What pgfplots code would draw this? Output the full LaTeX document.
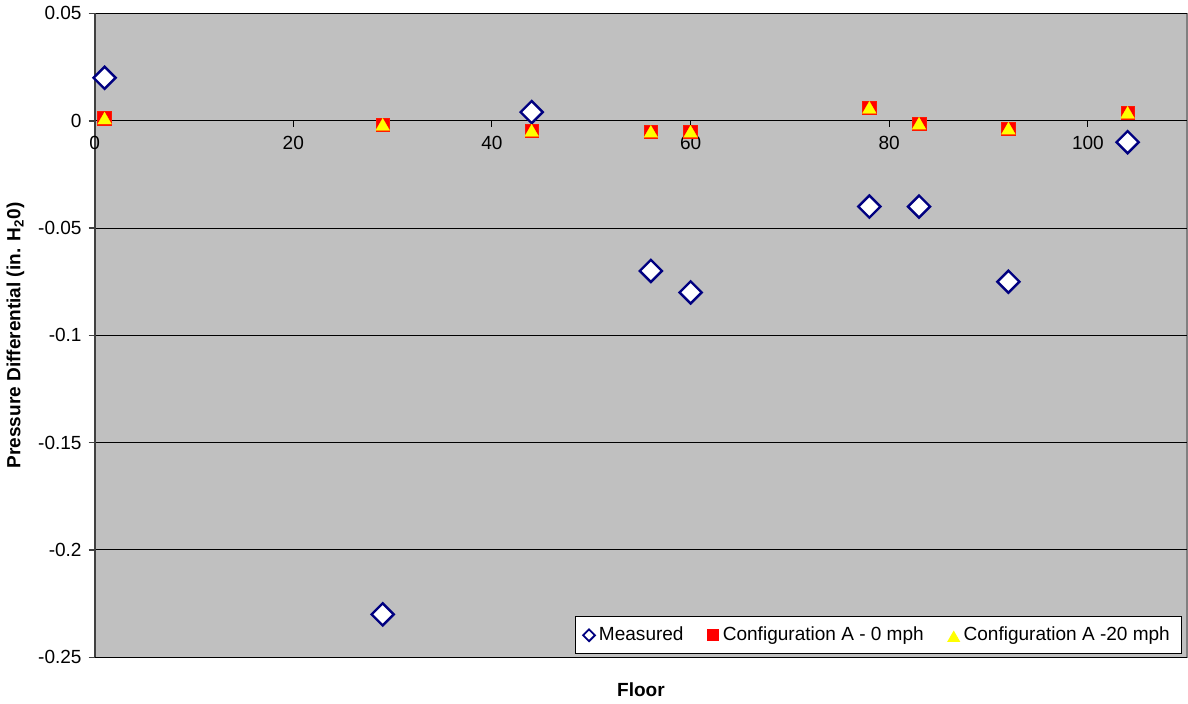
\documentclass[border=0pt]{standalone}
\usepackage{fontspec}
\setmainfont{Liberation Sans}
\usepackage{pgfplots}
\pgfplotsset{compat=1.18}
\definecolor{plotbg}{HTML}{C0C0C0}
\definecolor{navy}{HTML}{000080}
\definecolor{mred}{HTML}{FF0000}
\definecolor{myel}{HTML}{FFFF00}
\begin{document}
\begin{tikzpicture}
\begin{axis}[
  width=545.5pt, height=321.5pt, scale only axis,
  xmin=0, xmax=110, ymin=-0.25, ymax=0.05,
  axis x line=middle, axis y line=left,
  axis line style={-},
  y axis line style={draw=black!75, line width=1pt},
  x axis line style={draw=black, line width=0.5pt},
  hide obscured x ticks=false,
  axis background/.style={fill=plotbg, draw=gray, line width=0.8pt},
  xtick={0,20,40,60,80,100},
  ytick={-0.25,-0.2,-0.15,-0.1,-0.05,0,0.05},
  yticklabels={-0.25,-0.2,-0.15,-0.1,-0.05,0,0.05},
  xticklabels={0,20,40,60,80,100},
  ymajorgrids, major grid style={black, line width=0.5pt},
  x tick style={black, line width=0.5pt},
  y tick style={black!75, line width=0.8pt},
  xtick align=outside, ytick align=outside,
  major tick length=3pt,
  tick label style={font=\fontsize{9.5}{11}\selectfont},
  /pgf/number format/assume math mode=true,
  xticklabel style={anchor=north, yshift=-1pt},
  xlabel={Floor},
  xlabel style={at={(axis description cs:0.5,-0.0498)}, anchor=center, font=\fontsize{9.5}{11}\selectfont\bfseries},
  ylabel={Pressure Differential (in. H\textsubscript{2}0)},
  ylabel style={at={(axis description cs:-0.0724,0.5)}, rotate=0, anchor=center, font=\fontsize{9.5}{11}\selectfont\bfseries},
  clip mode=individual,
  legend columns=3,
  legend style={at={(axis description cs:0.9955,0.005)}, anchor=south east, draw=black, fill=white,
    font=\fontsize{9.5}{11}\selectfont, inner xsep=4pt, inner ysep=3pt,
    /tikz/every even column/.append style={column sep=10pt}},
]
\addplot[only marks, mark=square*, mark size=3.9pt, mark options={rotate=45, draw=navy, fill=white, line width=1.2pt},
  legend image code/.code={\draw[mark=square*, mark size=2.1pt, mark options={rotate=45, draw=navy, fill=white, line width=0.9pt}] plot coordinates {(0.1cm,0cm)};}]
coordinates {(1,0.02) (29,-0.23) (44,0.004) (56,-0.07) (60,-0.08) (78,-0.04) (83,-0.04) (92,-0.075) (104,-0.01)};
\addlegendentry{Measured}
\addplot[only marks, mark=square*, mark size=3.4pt, mark options={draw=mred!80!orange, fill=mred, line width=0.3pt},
  legend image code/.code={\draw[mark=square*, mark size=2.8pt, mark options={draw=mred, fill=mred}] plot coordinates {(0.1cm,0cm)};}]
coordinates {(1,0.001) (29,-0.0019) (44,-0.0047) (56,-0.0052) (60,-0.0052) (78,0.006) (83,-0.0014) (92,-0.0037) (104,0.0037)};
\addlegendentry{Configuration A - 0 mph}
\addplot[only marks, mark=triangle*, mark size=4pt, mark options={draw=myel, fill=myel, line width=0.1pt},
  legend image code/.code={\draw[mark=triangle*, mark size=3.4pt, mark options={draw=myel, fill=myel}] plot coordinates {(0.1cm,-0.05cm)};}]
coordinates {(1,0.0003) (29,-0.0026) (44,-0.0054) (56,-0.0059) (60,-0.0059) (78,0.0053) (83,-0.0021) (92,-0.0044) (104,0.003)};
\addlegendentry{Configuration A -20 mph}
\end{axis}
\end{tikzpicture}
\end{document}
